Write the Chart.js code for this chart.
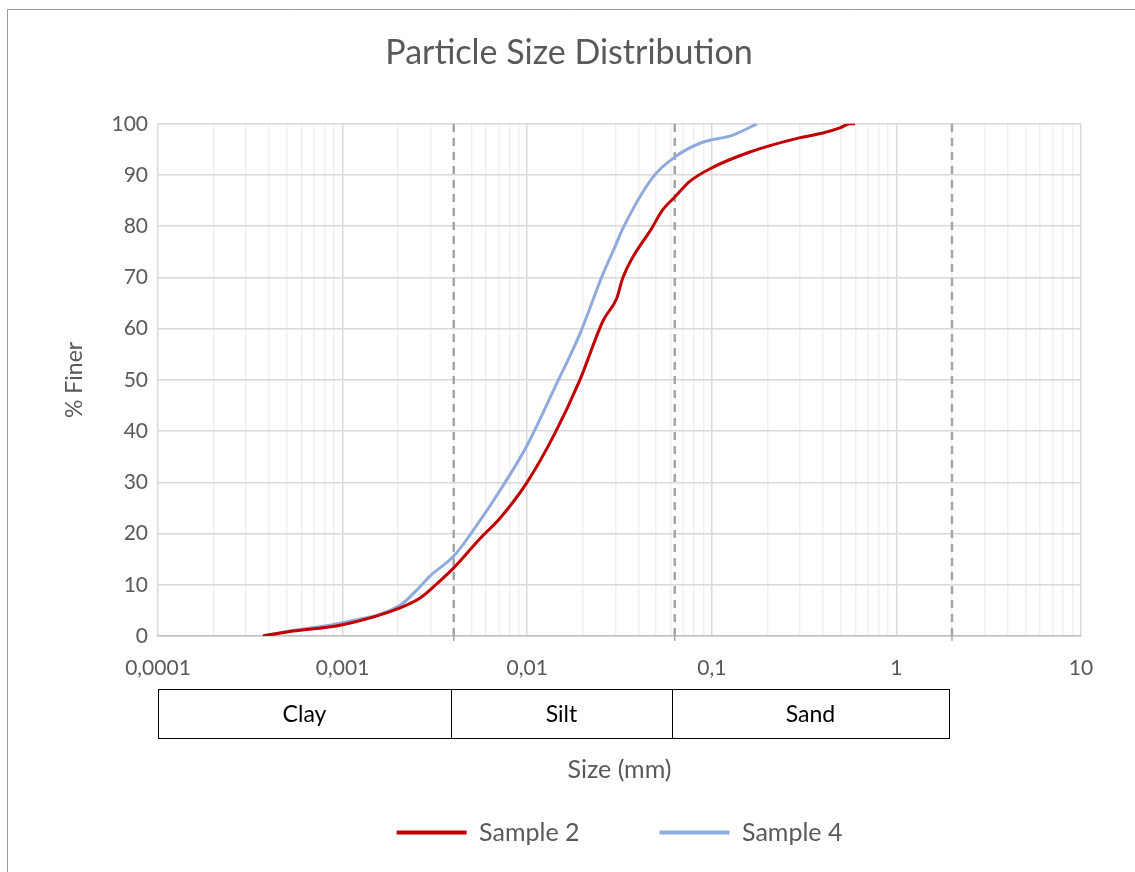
<!DOCTYPE html>
<html>
<head>
<meta charset="utf-8">
<script src="https://cdn.jsdelivr.net/npm/chart.js@4"></script>
<style>
  html, body { margin: 0; padding: 0; background: #fff; }
  #wrap { width: 1135px; height: 872px; }
</style>
</head>
<body>
<div id="wrap"><canvas id="psd" width="1135" height="872"></canvas></div>
<script>
// particle size (mm) and % finer
const sizes2 = [0.00037, 0.0005, 0.001, 0.00205, 0.00263, 0.00324, 0.004, 0.00554, 0.00712, 0.00998, 0.0141, 0.0193, 0.0258, 0.0306, 0.033, 0.048, 0.0537, 0.063, 0.0762, 0.1, 0.161, 0.301, 0.4, 0.494, 0.561, 0.597];
const finer2 = [0, 0.8, 2.2, 5.5, 7.4, 10.2, 13.3, 19, 23, 30, 39.5, 50, 61.6, 66, 70, 80, 83, 85.7, 88.8, 91.4, 94.5, 97.3, 98.2, 99.2, 100, 100];

const sizes4 = [0.00037, 0.0005, 0.001, 0.00205, 0.00256, 0.00297, 0.004, 0.00554, 0.00712, 0.00998, 0.0141, 0.0193, 0.0258, 0.0299, 0.0327, 0.048, 0.063, 0.0863, 0.13, 0.176];
const finer4 = [0, 0.9, 2.6, 6, 9.2, 11.7, 15.6, 22.5, 28.4, 37.2, 48.5, 59, 70.8, 76, 79.3, 89.6, 93.5, 96.2, 97.8, 100];

// x axis decades and their labels
const decades = [0.0001, 0.001, 0.01, 0.1, 1, 10];
const decadeLabels = ["0,0001", "0,001", "0,01", "0,1", "1", "10"];

// soil classes (boundaries in mm)
const soilBounds = [0.0001, 0.004, 0.063, 2];
const soilNames = ["Clay", "Silt", "Sand"];

const grey = "#595959";
Chart.defaults.font.family = "Lato";
Chart.defaults.color = grey;

function isDecade(v) {
  const l = Math.log10(v);
  return Math.abs(l - Math.round(l)) < 1e-6;
}
function decadeLabel(v) {
  for (let i = 0; i < decades.length; i++) {
    if (Math.abs(decades[i] - v) / decades[i] < 1e-6) return decadeLabels[i];
  }
  return "";
}

const soilPlugin = {
  id: "soil",
  beforeDraw(chart) {
    const ctx = chart.ctx;
    ctx.save();
    ctx.strokeStyle = "#999";
    ctx.lineWidth = 1;
    ctx.beginPath();
    ctx.moveTo(7.5, chart.height);
    ctx.lineTo(7.5, 9.5);
    ctx.lineTo(chart.width, 9.5);
    ctx.stroke();
    ctx.restore();
  },
  afterDraw(chart) {
    const { ctx, chartArea } = chart;
    const x = chart.scales.x;
    const top = chartArea.bottom + 53;
    const h = 49;
    ctx.save();
    // small ticks at class boundaries
    ctx.strokeStyle = "#a6a6a6";
    ctx.lineWidth = 1.5;
    soilBounds.slice(1).forEach(b => {
      const px = x.getPixelForValue(b);
      ctx.beginPath();
      ctx.moveTo(px, chartArea.bottom);
      ctx.lineTo(px, chartArea.bottom + 5);
      ctx.stroke();
    });
    // class boxes
    ctx.strokeStyle = "#000";
    ctx.lineWidth = 1;
    ctx.fillStyle = "#000";
    ctx.font = "23px Lato";
    ctx.textAlign = "center";
    ctx.textBaseline = "middle";
    soilNames.forEach((name, i) => {
      const x0 = Math.max(Math.round(x.getPixelForValue(soilBounds[i])) - 3, Math.round(chartArea.left));
      const x1 = Math.round(x.getPixelForValue(soilBounds[i + 1])) - 3;
      ctx.strokeRect(x0 + 0.5, top + 0.5, x1 - x0, h);
      ctx.fillText(name, (x0 + x1) / 2, top + h / 2 + 1);
    });
    // x axis title
    ctx.fillStyle = grey;
    ctx.font = "25px Lato";
    ctx.fillText("Size (mm)", (chartArea.left + chartArea.right) / 2, chartArea.bottom + 134);
    ctx.restore();
  }
};

const classLines = soilBounds.slice(1).map(b => ({
  label: "bound",
  data: [{ x: b, y: 0 }, { x: b, y: 100 }],
  borderColor: "#aaa4a1",
  borderWidth: 2.5,
  borderDash: [8, 6],
  pointRadius: 0,
  order: 2
}));

const ctx = document.getElementById("psd").getContext("2d");
const psdChart = new Chart(ctx, {
  type: "line",
  data: {
    datasets: [
      {
        label: "Sample 2",
        data: sizes2.map((s, i) => ({ x: s, y: finer2[i] })),
        borderColor: "#c00000",
        backgroundColor: "#c00000",
        borderWidth: 3,
        pointRadius: 0,
        cubicInterpolationMode: "monotone",
        order: 0
      },
      {
        label: "Sample 4",
        data: sizes4.map((s, i) => ({ x: s, y: finer4[i] })),
        borderColor: "#8faadc",
        backgroundColor: "#8faadc",
        borderWidth: 3,
        pointRadius: 0,
        cubicInterpolationMode: "monotone",
        order: 1
      },
      ...classLines
    ]
  },
  options: {
    responsive: false,
    animation: false,
    layout: { padding: { left: 57, right: 54, top: 0, bottom: 17 } },
    plugins: {
      title: {
        display: true,
        text: "Particle Size Distribution",
        color: grey,
        font: { size: 34, weight: "normal" },
        padding: { top: 33, bottom: 50 }
      },
      legend: {
        display: true,
        position: "bottom",
        fullSize: false,
        labels: {
          color: grey,
          font: { size: 25 },
          boxWidth: 70,
          boxHeight: 4,
          padding: 80,
          filter: item => item.datasetIndex < 2,
          generateLabels: chart =>
            Chart.defaults.plugins.legend.labels.generateLabels(chart).map(l => ({ ...l, lineWidth: 0 }))
        }
      },
      tooltip: { enabled: false }
    },
    scales: {
      x: {
        type: "logarithmic",
        min: 0.0001,
        max: 10,
        afterBuildTicks: scale => {
          const t = [];
          for (let d = 0; d < decades.length - 1; d++) {
            for (let m = 1; m < 10; m++) t.push({ value: m * decades[d] });
          }
          t.push({ value: decades[decades.length - 1] });
          scale.ticks = t;
        },
        afterFit: scale => { scale.height = 104; },
        ticks: {
          autoSkip: false,
          maxRotation: 0,
          padding: 20,
          color: grey,
          font: { size: 21 },
          callback: v => decadeLabel(v)
        },
        grid: {
          drawTicks: false,
          color: c => (c.tick && isDecade(c.tick.value) ? "#d9d9d9" : "#f0f0f0"),
          lineWidth: 1.5
        },
        border: { display: true, color: "#bfbfbf", width: 1.5 }
      },
      y: {
        min: 0,
        max: 100,
        afterFit: scale => { scale.width = 101; },
        ticks: { stepSize: 10, padding: 10, color: grey, font: { size: 21 } },
        grid: { drawTicks: false, color: "#d9d9d9", lineWidth: 1.5 },
        border: { display: false },
        title: { display: true, text: "% Finer", color: grey, font: { size: 23 }, padding: 4 }
      }
    }
  },
  plugins: [soilPlugin]
});
</script>
</body>
</html>
